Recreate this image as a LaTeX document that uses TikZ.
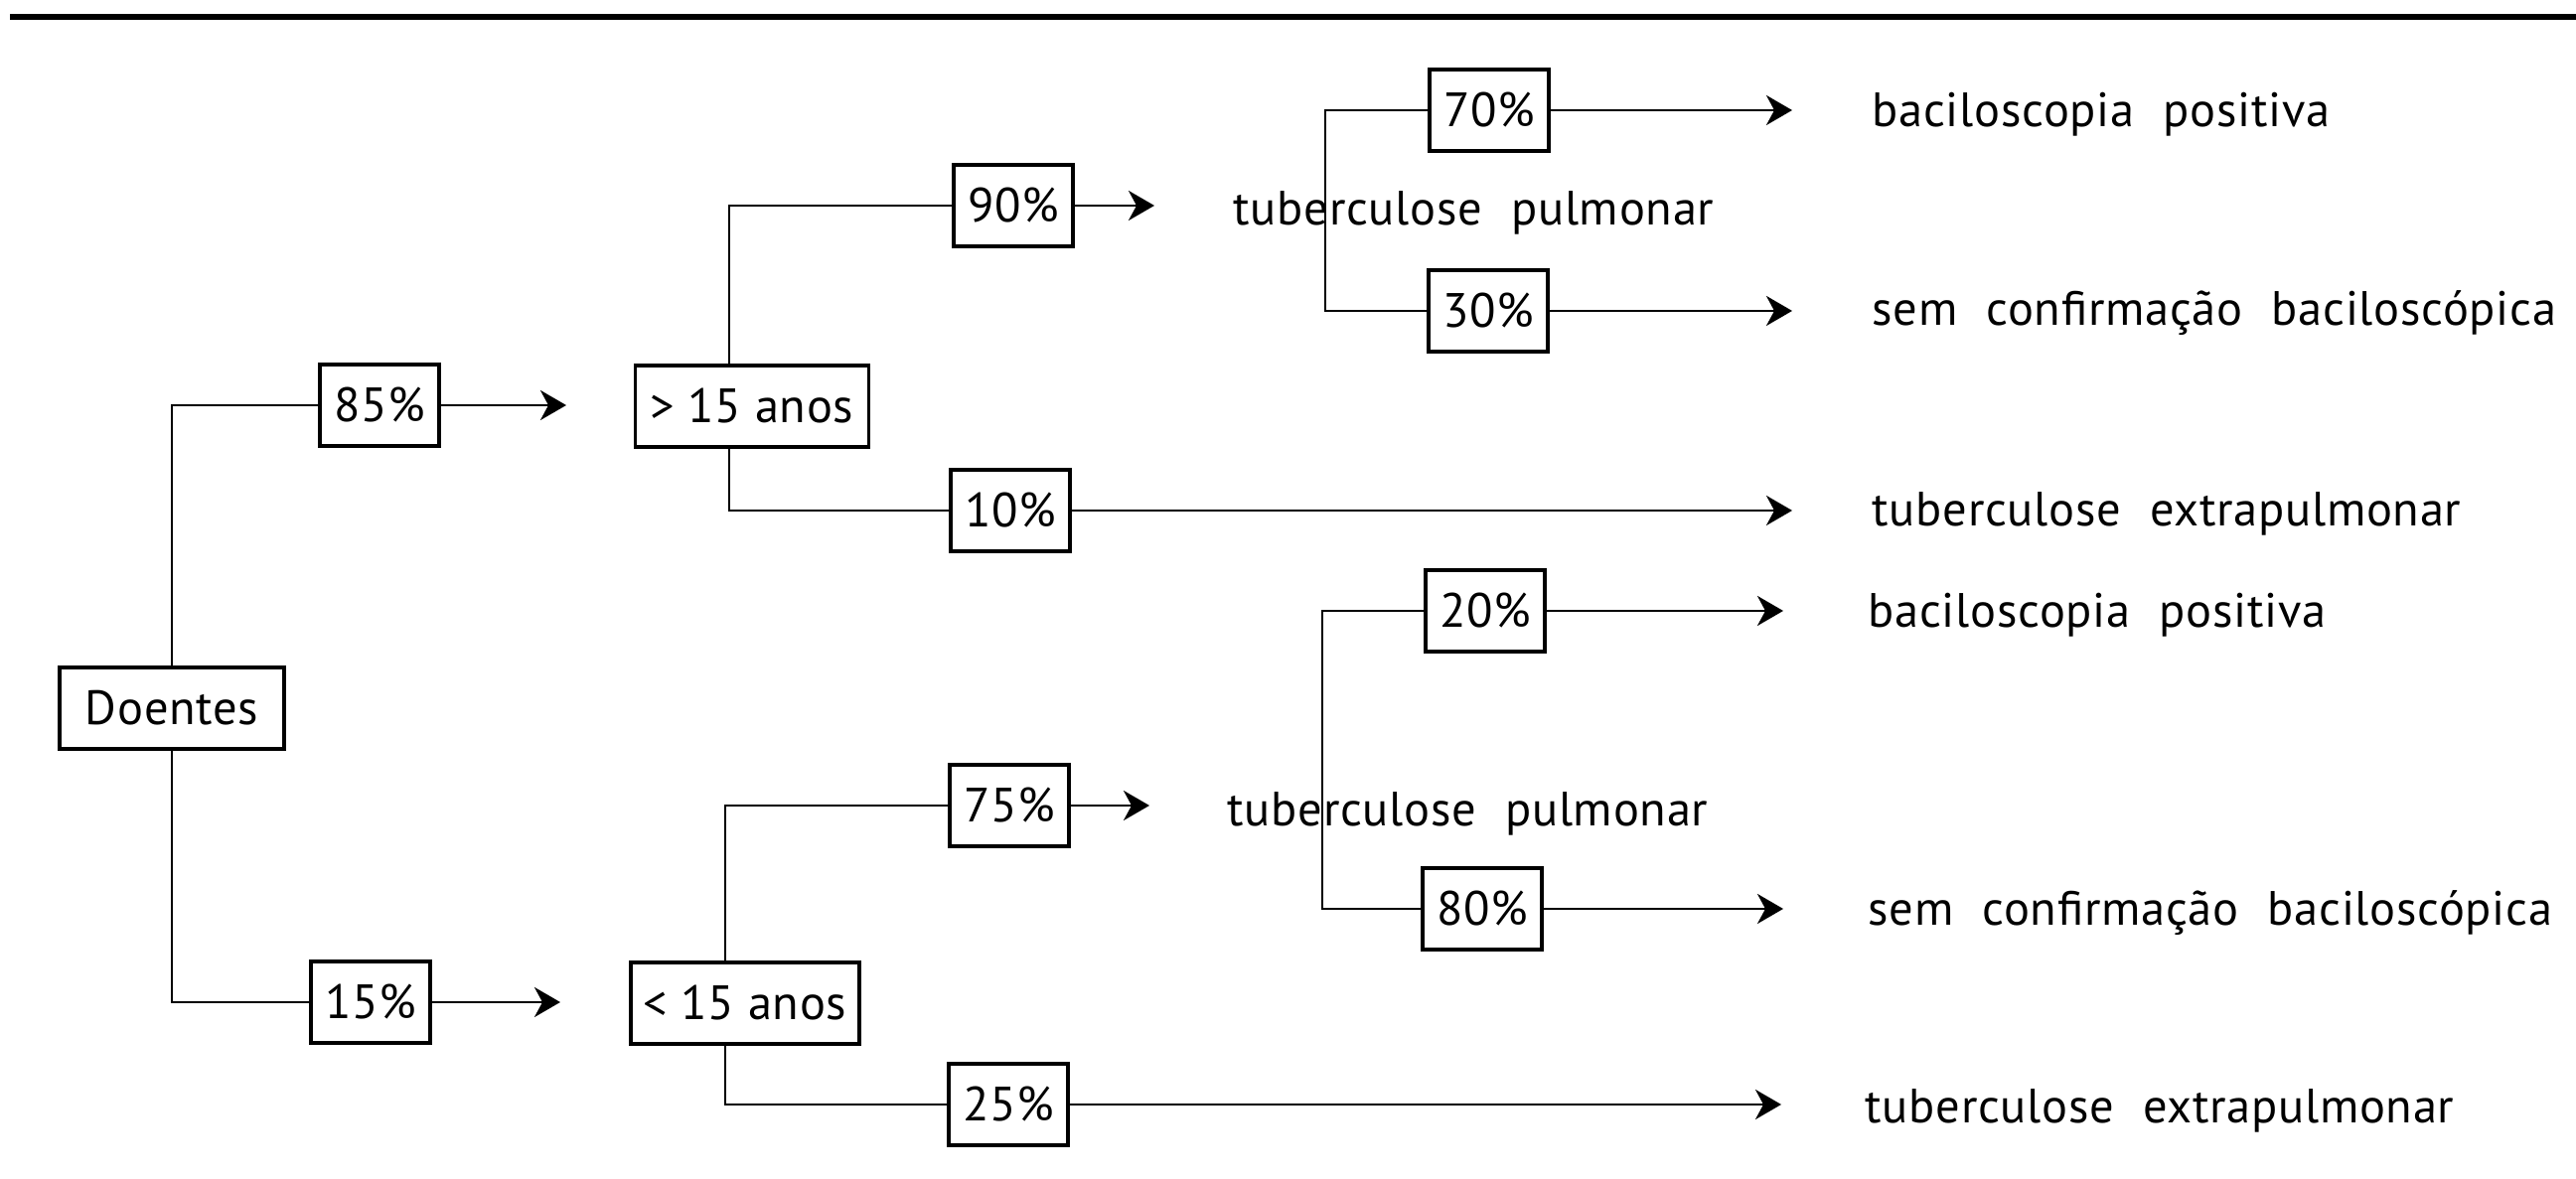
\documentclass[tikz,border=0pt]{standalone}
\usepackage{fontspec}
\setmainfont{PT Sans}[LetterSpace=1.5]
\usetikzlibrary{arrows.meta}
\newcommand*{\tam  }{\fontsize{13.8}{16}\selectfont}
\newcommand*{\largo}{\spaceskip=0.6em\relax}
\newcommand*{\xfimA}{18.04}
\newcommand*{\xfimB}{17.95}
\newcommand*{\xtxtA}{18.84}
\newcommand*{\xtxtB}{18.80}

\begin{document}
\begin{tikzpicture}[font=\tam,
        caixa/.style={draw, line width=1.1pt, minimum height=0.82cm, inner sep=0pt},
        pct/.style={caixa, minimum width=1.2cm},
        rotulo/.style={anchor=base west, inner sep=0pt, font=\tam\largo},
        liga/.style={line width=0.8pt},
        seta/.style={liga, -{Stealth[length=0.26cm, width=0.3cm, inset=0.08cm]}}]
    \useasboundingbox (0,0) rectangle (25.93,11.87);
    \draw [line width=1.5pt] (0.10,11.70) -- (25.93,11.70);
    % caixas
        \node [caixa, minimum width=2.26cm] (doentes) at ( 1.73, 4.74) {Doentes};
        \node [pct] (p85) at ( 3.82, 7.79) {85\%};
        \node [pct] (p15) at ( 3.73, 1.78) {15\%};
        \node [caixa, minimum width=2.35cm] (maior) at ( 7.57, 7.78) {> 15 anos};
        \node [caixa, minimum width=2.30cm] (menor) at ( 7.50, 1.77) {< 15 anos};
        \node [pct] (p90) at (10.20, 9.80) {90\%};
        \node [pct] (p10) at (10.17, 6.73) {10\%};
        \node [pct] (p75) at (10.16, 3.76) {75\%};
        \node [pct] (p25) at (10.15, 0.75) {25\%};
        \node [pct] (p70) at (14.99,10.76) {70\%};
        \node [pct] (p30) at (14.98, 8.74) {30\%};
        \node [pct] (p20) at (14.95, 5.72) {20\%};
        \node [pct] (p80) at (14.92, 2.72) {80\%};
    % textos
        \node [rotulo] (tpA) at (12.41, 9.60) {tuberculose pulmonar};
        \node [rotulo] (tpB) at (12.35, 3.55) {tuberculose pulmonar};
        \node [rotulo] (bpA) at (\xtxtA,10.59) {baciloscopia positiva};
        \node [rotulo] (scA) at (\xtxtA, 8.59) {sem confirmação baciloscópica};
        \node [rotulo] (teA) at (\xtxtA, 6.57) {tuberculose extrapulmonar};
        \node [rotulo] (bpB) at (\xtxtB, 5.55) {baciloscopia positiva};
        \node [rotulo] (scB) at (\xtxtB, 2.55) {sem confirmação baciloscópica};
        \node [rotulo] (teB) at (18.77, 0.56) {tuberculose extrapulmonar};
    % pontos
        \coordinate (jA) at ( 7.34, 0);
        \coordinate (jB) at ( 7.30, 0);
        \coordinate (kA) at (13.34, 9.75);
        \coordinate (kB) at (13.31, 4.20);
        \coordinate (f85) at ( 5.70, 7.79);
        \coordinate (f15) at ( 5.64, 1.78);
        \coordinate (f90) at (11.62, 9.80);
        \coordinate (f75) at (11.57, 3.76);
    % ligacoes
        \draw [liga] (doentes.north) |- (p85.west);
        \draw [liga] (doentes.south) |- (p15.west);
        \draw [liga] (jA |- maior.north) |- (p90.west);
        \draw [liga] (jA |- maior.south) |- (p10.west);
        \draw [liga] (jB |- menor.north) |- (p75.west);
        \draw [liga] (jB |- menor.south) |- (p25.west);
        \draw [liga] (p70.west) -| (kA) |- (p30.west);
        \draw [liga] (p20.west) -| (kB) |- (p80.west);
    % setas
        \draw [seta] (p85.east) -- (f85);
        \draw [seta] (p15.east) -- (f15);
        \draw [seta] (p90.east) -- (f90);
        \draw [seta] (p75.east) -- (f75);
        \draw [seta] (p70.east) -- (\xfimA,10.76);
        \draw [seta] (p30.east) -- (\xfimA, 8.74);
        \draw [seta] (p10.east) -- (\xfimA, 6.73);
        \draw [seta] (p20.east) -- (\xfimB, 5.72);
        \draw [seta] (p80.east) -- (\xfimB, 2.72);
        \draw [seta] (p25.east) -- (17.93, 0.75);
\end{tikzpicture}
\end{document}
